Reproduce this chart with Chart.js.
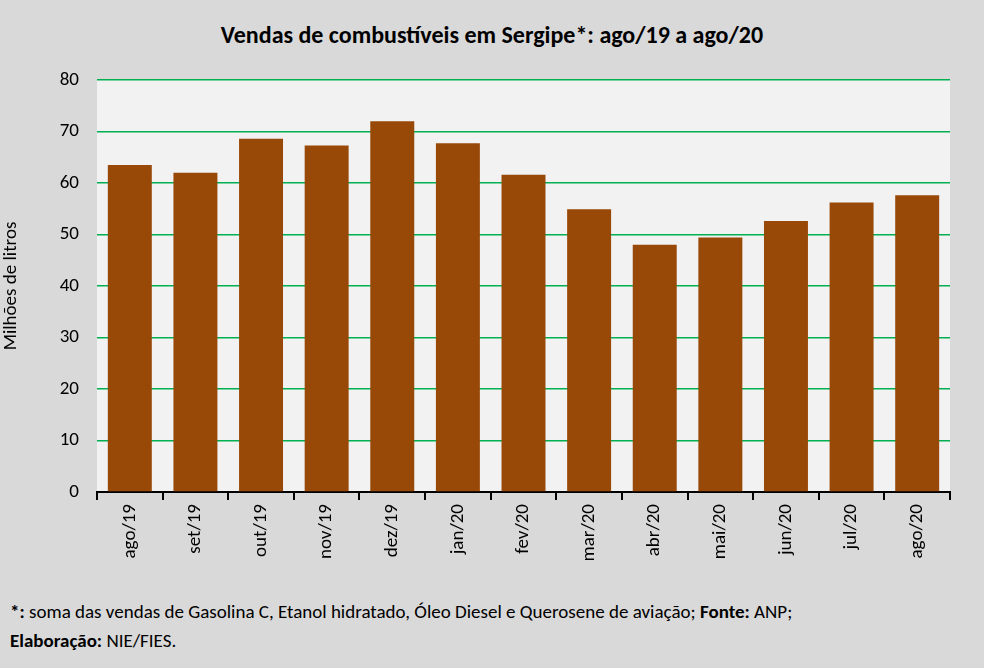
<!DOCTYPE html>
<html>
<head>
<meta charset="utf-8">
<script src="https://cdn.jsdelivr.net/npm/chart.js@4"></script>
<style>
  html, body { margin: 0; padding: 0; background: #d9d9d9; }
  #wrap { position: relative; width: 984px; height: 668px; font-family: Calibri, Carlito, "Liberation Sans", sans-serif; }
  #title { position: absolute; top: 20px; left: 0; width: 984px; text-align: center; font-weight: bold; font-size: 24px; color: #000; }
  #chartBox { position: absolute; left: 0; top: 0; width: 984px; height: 560px; }
  #note { position: absolute; left: 10px; top: 597px; font-size: 19px; line-height: 29px; color: #000; }
</style>
</head>
<body>
<div id="wrap">
  <div id="title">Vendas de combustíveis em Sergipe*: ago/19 a ago/20</div>
  <div id="chartBox"><canvas id="chart"></canvas></div>
  <div id="note"><b>*:</b> soma das vendas de Gasolina C, Etanol hidratado, Óleo Diesel e Querosene de aviação; <b>Fonte:</b> ANP;<br><b>Elaboração:</b> NIE/FIES.</div>
</div>
<script>
const months = ['ago/19', 'set/19', 'out/19', 'nov/19', 'dez/19', 'jan/20', 'fev/20', 'mar/20', 'abr/20', 'mai/20', 'jun/20', 'jul/20', 'ago/20']
const sales = [63.5, 62.0, 68.6, 67.3, 72.0, 67.7, 61.6, 54.9, 48.0, 49.4, 52.6, 56.2, 57.6]
const yTicks = [0, 10, 20, 30, 40, 50, 60, 70, 80]

const plotBg = {
    id: 'plotBg',
    beforeDraw(chart) {
        const a = chart.chartArea
        const ctx = chart.ctx
        ctx.save()
        ctx.fillStyle = '#f2f2f2'
        ctx.fillRect(a.left, a.top, a.right - a.left, a.bottom - a.top)
        ctx.restore()
    }
}

Chart.defaults.font.family = 'Calibri, Carlito, "Liberation Sans", sans-serif'
Chart.defaults.color = '#000'

new Chart(document.getElementById('chart'), {
    type: 'bar',
    data: {
        labels: months,
        datasets: [{
            data: sales,
            backgroundColor: '#984807',
            barPercentage: 0.67,
            categoryPercentage: 1
        }]
    },
    options: {
        responsive: true,
        maintainAspectRatio: false,
        animation: false,
        layout: { padding: { top: 80, right: 34, left: 0, bottom: 0 } },
        plugins: { legend: { display: false }, tooltip: { enabled: false } },
        scales: {
            x: {
                grid: { display: true, drawOnChartArea: false, offset: true, color: '#000', lineWidth: 2, tickLength: 8 },
                border: { color: '#000', width: 2 },
                ticks: { maxRotation: 90, minRotation: 90, font: { size: 19 }, padding: 4 },
                afterFit(s) { s.height = 68 }
            },
            y: {
                min: 0, max: 80,
                afterBuildTicks(s) { s.ticks = yTicks.map(v => ({ value: v })) },
                grid: { color: '#00b050', lineWidth: 1.5, drawTicks: false },
                border: { display: false },
                ticks: { font: { size: 19 }, padding: 18 },
                title: { display: true, text: 'Milhões de litros', font: { size: 19 }, padding: 0 },
                afterFit(s) { s.width = 97 }
            }
        }
    },
    plugins: [plotBg]
});
</script>
</body>
</html>
